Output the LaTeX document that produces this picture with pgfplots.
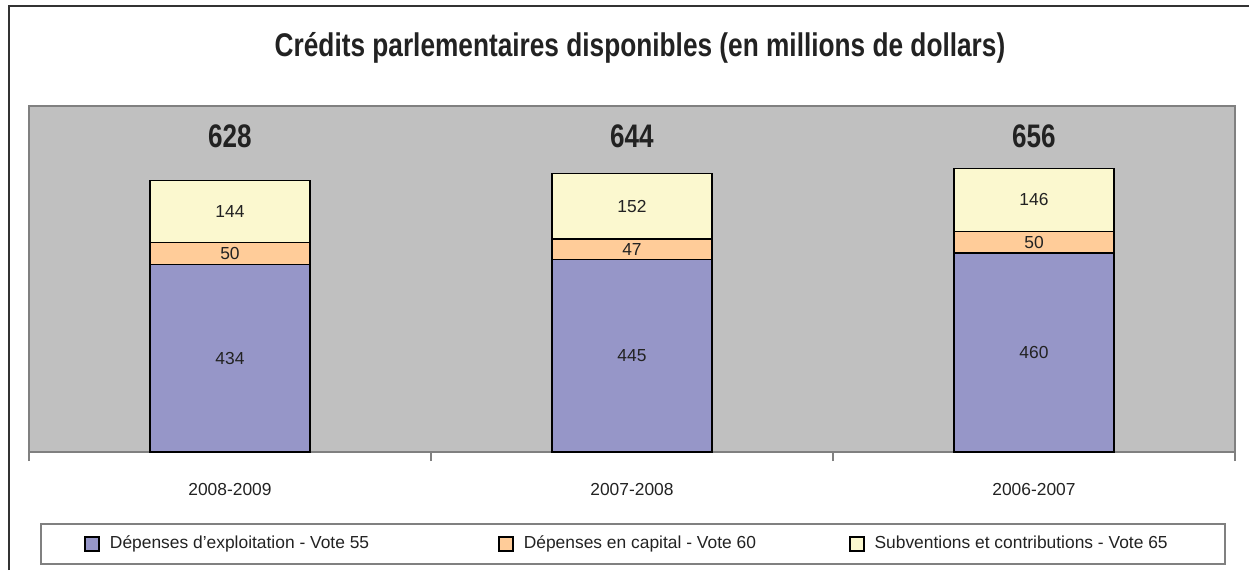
\documentclass[border=0pt]{standalone}
\usepackage{fontspec}
\setmainfont{Liberation Sans}
\newfontfamily\narrowfont[FakeStretch=0.8]{Liberation Sans}
\usepackage{pgfplots}
\usepackage{pgfplotstable}
\pgfplotsset{compat=1.18}
\definecolor{bgray}{HTML}{C0C0C0}
\definecolor{vote55}{HTML}{9696C8}
\definecolor{vote60}{HTML}{FFCC99}
\definecolor{vote65}{HTML}{FBF8CF}
\definecolor{txt}{HTML}{222222}
\pgfplotsset{leg/.style={legend image code/.code={\draw[##1, line width=0.8pt] (0pt,-3.5pt) rectangle (7pt,3.5pt);}}}
\newcommand\lbl{\fontsize{8.7}{10}\selectfont}
\newcommand\tot{\narrowfont\bfseries\fontsize{16.3}{18}\selectfont}
% x: 0 = 2008-2009, 1 = 2007-2008, 2 = 2006-2007
\pgfplotstableread{
x a b c
0 434 50 144
1 445 47 152
2 460 50 146
}\credits
\pgfplotsset{seg/.style={nodes near coords, point meta=explicit symbolic,
  every node near coord/.append style={anchor=center, font=\lbl, text=txt}}}
\begin{document}
\begin{tikzpicture}
\path[use as bounding box] (0,0) rectangle (624.5pt,285pt);
\draw[line width=1pt, black!80] (4.5pt,0) -- (4.5pt,282pt) -- (624.5pt,282pt);
\node[font=\narrowfont\bfseries\fontsize{16.4}{18}\selectfont, text=txt] at (320pt,261pt) {Crédits parlementaires disponibles (en millions de dollars)};
\draw[gray, line width=0.6pt] (20.5pt,3pt) rectangle (612.5pt,23pt);
\begin{axis}[
  at={(14.5pt,59pt)}, anchor=south west,
  width=603pt, height=173pt, scale only axis,
  ybar stacked, bar width=80pt,
  xmin=-0.5, xmax=2.5, ymin=0, ymax=800,
  axis background/.style={fill=bgray},
  axis line style={draw=gray, line width=0.8pt},
  ytick=\empty,
  xtick={0,1,2}, xticklabels={{2008-2009},{2007-2008},{2006-2007}},
  xtick pos=bottom,
  major tick length=0pt,
  minor xtick={-0.5,0.5,1.5,2.5},
  minor tick length=4.5pt, xtick align=outside,
  minor x tick style={gray, line width=0.6pt},
  xticklabel style={anchor=center, yshift=-19pt, font=\lbl, text=txt},
  legend columns=3,
  legend style={at={(axis description cs:0.0456,-0.2659)}, anchor=west,
    draw=none, fill=none, inner sep=0pt, font=\lbl, text=txt,
    /tikz/every odd column/.append style={column sep=3pt},
    /tikz/column 2/.style={column sep=62.5pt},
    /tikz/column 4/.style={column sep=44.5pt}},
]
\addplot[fill=vote55, draw=black, line width=0.75pt, leg, seg] table[x=x, y=a, meta=a] {\credits};
\addlegendentry{Dépenses d’exploitation - Vote 55}
\addplot[fill=vote60, draw=black, line width=0.75pt, leg, seg] table[x=x, y=b, meta=b] {\credits};
\addlegendentry{Dépenses en capital - Vote 60}
\addplot[fill=vote65, draw=black, line width=0.75pt, leg, seg] table[x=x, y=c, meta=c] {\credits};
\addlegendentry{Subventions et contributions - Vote 65}
\node[font=\tot, text=txt] at (axis cs:0,729) {628};
\node[font=\tot, text=txt] at (axis cs:1,729) {644};
\node[font=\tot, text=txt] at (axis cs:2,729) {656};
\end{axis}
\end{tikzpicture}
\end{document}
